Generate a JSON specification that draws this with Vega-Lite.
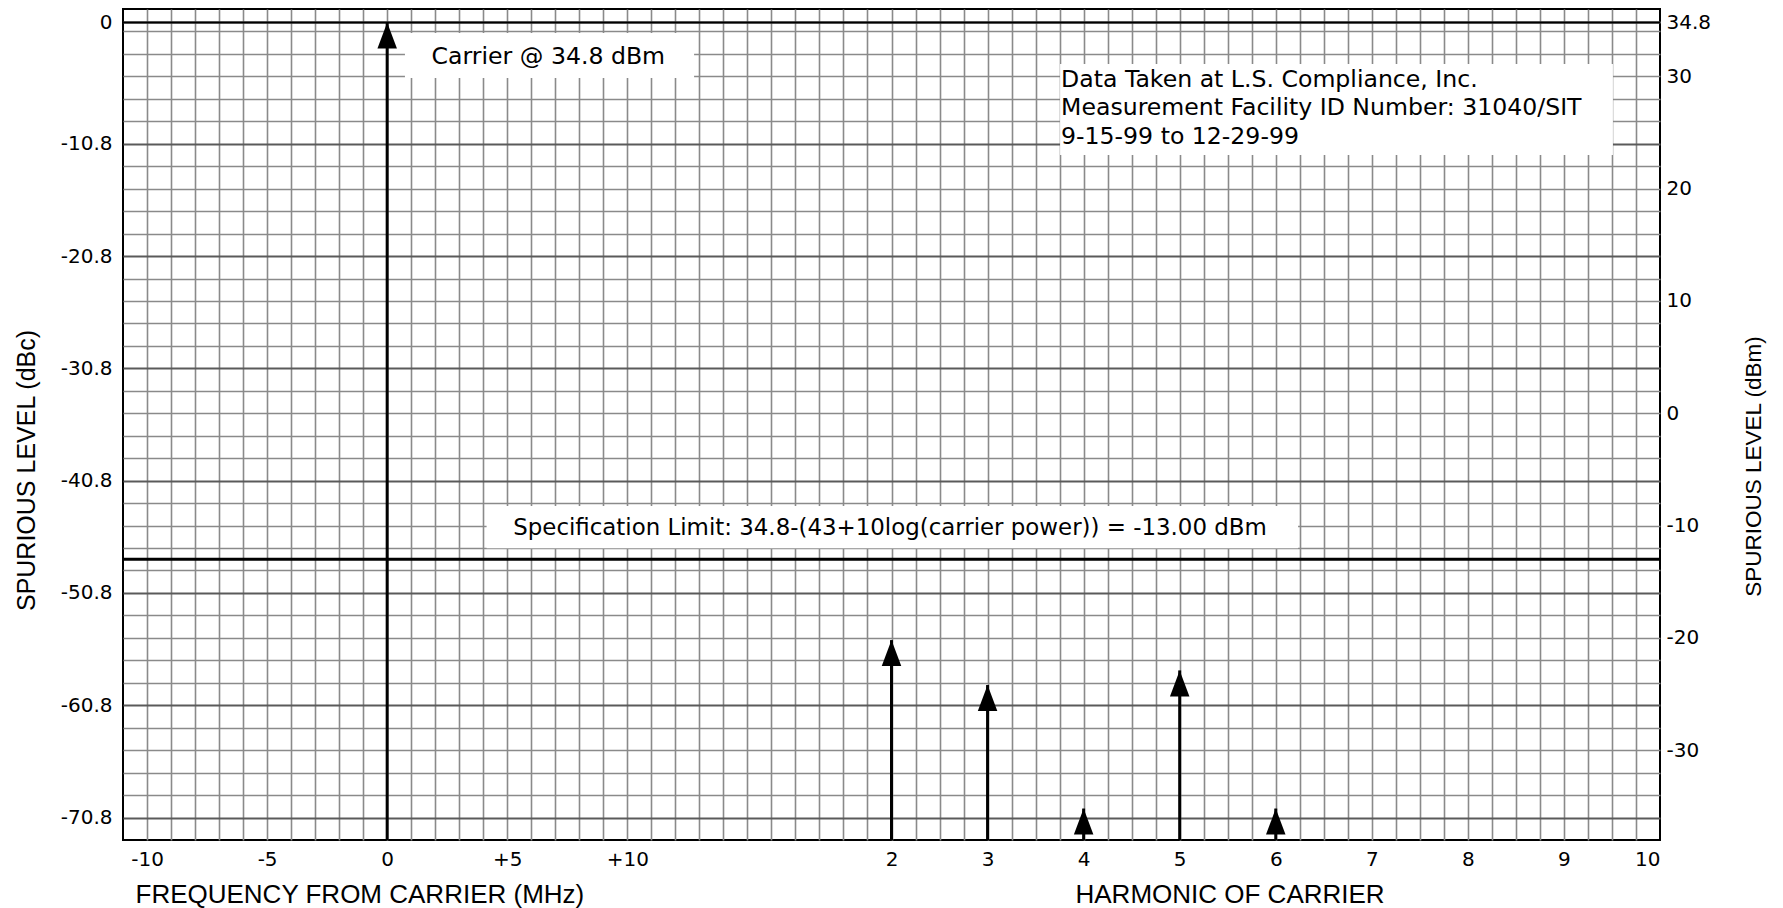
{
  "$schema": "https://vega.github.io/schema/vega-lite/v6.json",
  "width": 1537,
  "height": 831,
  "autosize": {"type": "none"},
  "padding": {"left": 123, "top": 9, "right": 123, "bottom": 68},
  "background": "white",
  "config": {
    "font": "DejaVu Sans",
    "view": {"stroke": "black", "strokeWidth": 2},
    "axis": {
      "domain": false,
      "ticks": false,
      "labelFont": "DejaVu Sans",
      "labelFontSize": 20,
      "labelColor": "black",
      "labelOverlap": false,
      "labelBound": false,
      "titleFont": "Liberation Sans",
      "titleFontSize": 25,
      "titleFontWeight": "normal",
      "titleColor": "black",
      "gridColor": "#8a8a8a",
      "gridWidth": 1.6,
      "gridOpacity": 1
    }
  },
  "datasets": {
    "carrier": [{"offset_mhz": 0, "level_dbc": 0}],
    "harmonics": [
      {"harmonic": 2, "level_dbc": -55.0},
      {"harmonic": 3, "level_dbc": -59.0},
      {"harmonic": 4, "level_dbc": -70.0},
      {"harmonic": 5, "level_dbc": -57.7},
      {"harmonic": 6, "level_dbc": -70.0}
    ]
  },
  "layer": [
    {
      "data": {"name": "carrier"},
      "mark": {"type": "rule", "color": "black", "strokeWidth": 3},
      "encoding": {
        "x": {
          "field": "offset_mhz", "type": "quantitative",
          "scale": {"domain": [-11, 53], "nice": false, "zero": false},
          "axis": {
            "orient": "bottom",
            "values": [-10,-9,-8,-7,-6,-5,-4,-3,-2,-1,0,1,2,3,4,5,6,7,8,9,10,11,12,13,14,15,16,17,18,19,20,21,22,23,24,25,26,27,28,29,30,31,32,33,34,35,36,37,38,39,40,41,42,43,44,45,46,47,48,49,50,51,52],
            "grid": true,
            "labelExpr": "indexof([-10,-5,0,5,10], datum.value) >= 0 ? (datum.value > 0 ? '+' + datum.value : '' + datum.value) : ''",
            "labelPadding": 9,
            "labelFlush": false,
            "title": "FREQUENCY FROM CARRIER (MHz)",
            "titleFontSize": 26,
            "titleX": 12,
            "titleY": 62,
            "titleAlign": "left",
            "titleAnchor": "start",
            "titleBaseline": "alphabetic"
          }
        },
        "y": {
          "field": "level_dbc", "type": "quantitative",
          "scale": {"domain": [-72.8, 1.2], "nice": false, "zero": false},
          "axis": {
            "orient": "left",
            "values": [0, -10.8, -20.8, -30.8, -40.8, -50.8, -60.8, -70.8],
            "grid": true,
            "gridColor": "#5a5a5a",
            "gridWidth": 2,
            "labelExpr": "'' + datum.value",
            "labelPadding": 11,
            "title": "SPURIOUS LEVEL (dBc)",
            "titleAngle": 270,
            "titleX": -97,
            "titleY": 461,
            "titleAlign": "center",
            "titleBaseline": "middle"
          }
        },
        "y2": {"datum": -72.8}
      }
    },
    {
      "data": {"name": "harmonics"},
      "mark": {"type": "rule", "color": "black", "strokeWidth": 3},
      "encoding": {
        "x": {
          "field": "harmonic", "type": "quantitative",
          "scale": {"domain": [-6, 10], "nice": false, "zero": false},
          "axis": {
            "orient": "bottom",
            "values": [2, 3, 4, 5, 6, 7, 8, 9, 10],
            "grid": false,
            "labelExpr": "'' + datum.value",
            "labelPadding": 9,
            "labelFlush": true,
            "title": "HARMONIC OF CARRIER",
            "titleFontSize": 26,
            "titleX": 952,
            "titleY": 62,
            "titleAlign": "left",
            "titleAnchor": "start",
            "titleBaseline": "alphabetic"
          }
        },
        "y": {
          "field": "level_dbc", "type": "quantitative",
          "scale": {"domain": [-72.8, 1.2], "nice": false, "zero": false},
          "axis": {
            "orient": "right",
            "values": [0, -0.8, -2.8, -4.8, -6.8, -8.8, -12.8, -14.8, -16.8, -18.8, -22.8, -24.8, -26.8, -28.8, -32.8, -34.8, -36.8, -38.8, -42.8, -44.8, -46.8, -48.8, -52.8, -54.8, -56.8, -58.8, -62.8, -64.8, -66.8, -68.8],
            "grid": true,
            "labelExpr": "abs(datum.value) < 0.01 ? '34.8' : (abs((datum.value + 34.8) / 10 - round((datum.value + 34.8) / 10)) < 0.001 ? '' + round(datum.value + 34.8) : '')",
            "labelPadding": 6,
            "title": "SPURIOUS LEVEL (dBm)",
            "titleFontSize": 22.5,
            "titleAngle": 270,
            "titleX": 93,
            "titleY": 457,
            "titleAlign": "center",
            "titleBaseline": "middle"
          }
        },
        "y2": {"datum": -72.8}
      }
    },
    {
      "data": {"name": "carrier"},
      "mark": {"type": "point", "shape": "M0,0L0.375,1L-0.375,1Z", "size": 2704, "filled": true, "color": "black", "opacity": 1, "strokeWidth": 0},
      "encoding": {
        "x": {"field": "offset_mhz", "type": "quantitative", "scale": {"domain": [-11, 53], "nice": false, "zero": false}, "axis": null},
        "y": {"field": "level_dbc", "type": "quantitative", "scale": {"domain": [-72.8, 1.2], "nice": false, "zero": false}, "axis": null}
      }
    },
    {
      "data": {"name": "harmonics"},
      "mark": {"type": "point", "shape": "M0,0L0.375,1L-0.375,1Z", "size": 2704, "filled": true, "color": "black", "opacity": 1, "strokeWidth": 0},
      "encoding": {
        "x": {"field": "harmonic", "type": "quantitative", "scale": {"domain": [-6, 10], "nice": false, "zero": false}, "axis": null},
        "y": {"field": "level_dbc", "type": "quantitative", "scale": {"domain": [-72.8, 1.2], "nice": false, "zero": false}, "axis": null}
      }
    },
    {
      "data": {"values": [{"ref": "carrier level"}]},
      "mark": {"type": "rule", "color": "black", "strokeWidth": 2},
      "encoding": {
        "y": {"datum": 0, "type": "quantitative", "scale": {"domain": [-72.8, 1.2], "nice": false, "zero": false}, "axis": null}
      }
    },
    {
      "data": {"values": [{"ref": "specification limit"}]},
      "mark": {"type": "rule", "color": "black", "strokeWidth": 3},
      "encoding": {
        "y": {"datum": -47.8, "type": "quantitative", "scale": {"domain": [-72.8, 1.2], "nice": false, "zero": false}, "axis": null}
      }
    },
    {
      "data": {"values": [{"box": "carrier"}]},
      "mark": {"type": "rect", "fill": "white", "strokeWidth": 0},
      "encoding": {
        "x": {"datum": 0.74, "type": "quantitative", "scale": {"domain": [-11, 53], "nice": false, "zero": false}, "axis": null},
        "x2": {"datum": 12.78},
        "y": {"datum": -0.94, "type": "quantitative", "scale": {"domain": [-72.8, 1.2], "nice": false, "zero": false}, "axis": null},
        "y2": {"datum": -4.94}
      }
    },
    {
      "data": {"values": [{"box": "data"}]},
      "mark": {"type": "rect", "fill": "white", "strokeWidth": 0},
      "encoding": {
        "x": {"datum": 28.02, "type": "quantitative", "scale": {"domain": [-11, 53], "nice": false, "zero": false}, "axis": null},
        "x2": {"datum": 51.04},
        "y": {"datum": -3.7, "type": "quantitative", "scale": {"domain": [-72.8, 1.2], "nice": false, "zero": false}, "axis": null},
        "y2": {"datum": -11.8}
      }
    },
    {
      "data": {"values": [{"box": "spec"}]},
      "mark": {"type": "rect", "fill": "white", "strokeWidth": 0},
      "encoding": {
        "x": {"datum": 4.14, "type": "quantitative", "scale": {"domain": [-11, 53], "nice": false, "zero": false}, "axis": null},
        "x2": {"datum": 37.93},
        "y": {"datum": -43.06, "type": "quantitative", "scale": {"domain": [-72.8, 1.2], "nice": false, "zero": false}, "axis": null},
        "y2": {"datum": -46.82}
      }
    },
    {
      "data": {"values": [{"note": "Carrier @ 34.8 dBm"}]},
      "mark": {"type": "text", "font": "DejaVu Sans", "fontSize": 23.6, "color": "black", "align": "left", "baseline": "alphabetic"},
      "encoding": {
        "x": {"datum": 1.85, "type": "quantitative", "scale": {"domain": [-11, 53], "nice": false, "zero": false}, "axis": null},
        "y": {"datum": -3.7, "type": "quantitative", "scale": {"domain": [-72.8, 1.2], "nice": false, "zero": false}, "axis": null},
        "text": {"field": "note"}
      }
    },
    {
      "data": {"values": [{"note": "Specification Limit: 34.8-(43+10log(carrier power)) = -13.00 dBm"}]},
      "mark": {"type": "text", "font": "DejaVu Sans", "fontSize": 22.9, "color": "black", "align": "left", "baseline": "alphabetic"},
      "encoding": {
        "x": {"datum": 5.25, "type": "quantitative", "scale": {"domain": [-11, 53], "nice": false, "zero": false}, "axis": null},
        "y": {"datum": -45.64, "type": "quantitative", "scale": {"domain": [-72.8, 1.2], "nice": false, "zero": false}, "axis": null},
        "text": {"field": "note"}
      }
    },
    {
      "data": {"values": [{"note": "facility"}]},
      "mark": {"type": "text", "font": "DejaVu Sans", "fontSize": 23.6, "color": "black", "align": "left", "baseline": "alphabetic", "lineHeight": 28.7,
               "text": ["Data Taken at L.S. Compliance, Inc.", "Measurement Facility ID Number: 31040/SIT", "9-15-99 to 12-29-99"]},
      "encoding": {
        "x": {"datum": 28.06, "type": "quantitative", "scale": {"domain": [-11, 53], "nice": false, "zero": false}, "axis": null},
        "y": {"datum": -5.72, "type": "quantitative", "scale": {"domain": [-72.8, 1.2], "nice": false, "zero": false}, "axis": null}
      }
    }
  ],
  "resolve": {
    "scale": {"x": "independent"},
    "axis": {"x": "independent", "y": "independent"}
  }
}
